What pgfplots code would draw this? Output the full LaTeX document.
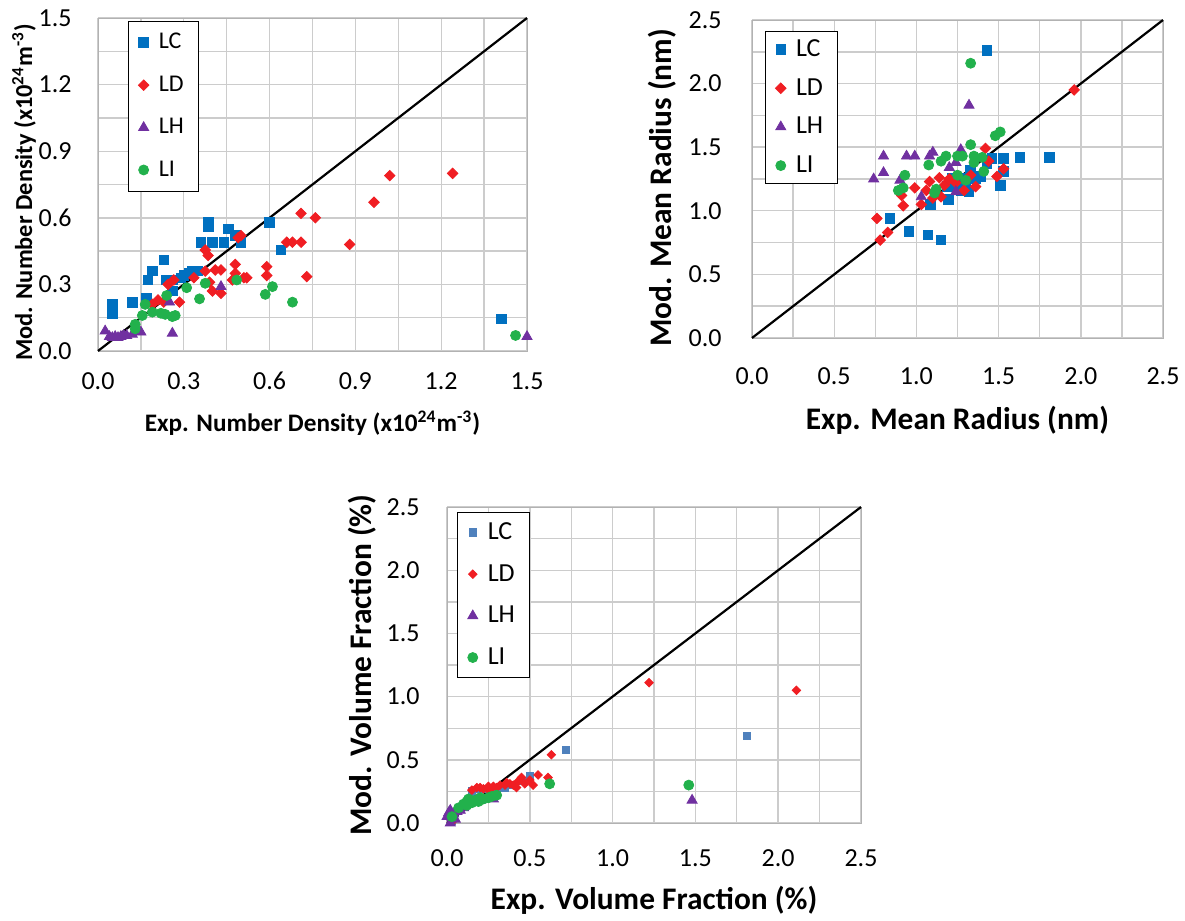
\documentclass[border=0pt]{standalone}
\usepackage{fontspec}
\setmainfont{Carlito}
\usepackage{pgfplots}
\pgfplotsset{compat=1.18}
\definecolor{cLC}{RGB}{0,112,192}
\definecolor{cLCb}{RGB}{79,129,189}
\definecolor{cLD}{RGB}{240,30,35}
\definecolor{cLH}{RGB}{112,48,160}
\definecolor{cLI}{RGB}{34,177,76}
\pgfplotsset{
  exc/.style={
    scale only axis, clip=false,
    axis line style={gray!60},
    grid=both,
    grid style={gray!40, line width=0.7pt},
    tick style={draw=none},
    major tick length=0pt, minor tick length=0pt,
    tick label style={font=\fontsize{13}{15}\selectfont, inner sep=0pt,
      /pgf/number format/fixed, /pgf/number format/fixed zerofill,
      /pgf/number format/precision=1, /pgf/number format/assume math mode=true},
    xticklabel style={anchor=center},
    yticklabel style={anchor=east},
    legend cell align=left,
    legend image code/.code={\draw[#1] plot coordinates {(0pt,0pt)};},
    legend style={draw=black, fill=white, anchor=north west,
      inner xsep=5pt, inner ysep=4pt,
      /tikz/every odd column/.append style={column sep=3pt}},
  },
  mLC/.style={only marks, mark=square*, mark size=2.4pt, color=cLC},
  mLD/.style={only marks, mark=square*, mark size=1.85pt, mark options={rotate=45}, color=cLD},
  mLH/.style={only marks, mark=triangle*, mark size=2.9pt, color=cLH},
  mLI/.style={only marks, mark=*, mark size=2.5pt, color=cLI},
}
\begin{document}
\begin{tikzpicture}
\path[use as bounding box] (0,0) rectangle (592.5pt,-460.5pt);
% ---------------- Top-left: number density
\begin{axis}[exc, at={(49pt,-9pt)}, anchor=north west,
  width=214.5pt, height=166.5pt,
  xmin=0, xmax=1.5, ymin=0, ymax=1.5,
  xtick={0,0.3,0.6,0.9,1.2,1.5}, ytick={0,0.3,0.6,0.9,1.2,1.5},
  minor xtick={0.15,0.45,0.75,1.05,1.35}, minor ytick={0.15,0.45,0.75,1.05,1.35},
  xticklabel style={yshift=-15pt}, yticklabel style={xshift=-13pt},
  xlabel={\textbf{Exp. Number Density (x10\textsuperscript{24}m\textsuperscript{-3})}},
  ylabel={\textbf{Mod. Number Density (x10\textsuperscript{24}m\textsuperscript{-3})}},
  xlabel style={font=\fontsize{12.6}{14}\selectfont, at={(axis description cs:0.5,-0.216)}, anchor=center},
  ylabel style={font=\fontsize{12.2}{14}\selectfont, at={(axis description cs:-0.1725,0.476)}, anchor=center},
  legend style={at={(axis description cs:0.07,0.991)}, row sep=8pt,
    font=\fontsize{12}{14}\selectfont},
]
\addplot[mLC] coordinates {
(0.05,0.21) (0.05,0.17) (0.12,0.22) (0.17,0.24) (0.175,0.32) (0.19,0.36)
(0.23,0.41) (0.24,0.32) (0.26,0.32) (0.26,0.27) (0.29,0.33) (0.30,0.34)
(0.32,0.35) (0.33,0.36) (0.35,0.36) (0.36,0.49) (0.385,0.58) (0.385,0.56)
(0.40,0.49) (0.44,0.49) (0.455,0.55) (0.48,0.52) (0.50,0.49) (0.60,0.58)
(0.64,0.455) (1.41,0.145)};
\addlegendentry{LC}
\addplot[mLD] coordinates {
(0.19,0.21) (0.21,0.23) (0.23,0.22) (0.245,0.30) (0.265,0.32) (0.285,0.22)
(0.335,0.33) (0.375,0.455) (0.385,0.43) (0.375,0.36) (0.39,0.31) (0.40,0.27)
(0.41,0.365) (0.43,0.365) (0.43,0.26) (0.48,0.39) (0.48,0.35) (0.47,0.32)
(0.49,0.51) (0.50,0.52) (0.51,0.33) (0.52,0.33) (0.59,0.38) (0.59,0.34)
(0.66,0.49) (0.68,0.49) (0.71,0.49) (0.71,0.62) (0.73,0.335) (0.76,0.60)
(0.88,0.48) (0.965,0.67) (1.02,0.79) (1.24,0.80)};
\addlegendentry{LD}
\addplot[mLH] coordinates {
(0.025,0.09) (0.04,0.065) (0.05,0.06) (0.06,0.065) (0.07,0.06) (0.08,0.065)
(0.09,0.07) (0.10,0.07) (0.12,0.075) (0.15,0.085) (0.25,0.22) (0.26,0.08)
(0.43,0.29) (1.50,0.065)};
\addlegendentry{LH}
\addplot[mLI] coordinates {
(0.13,0.10) (0.13,0.12) (0.155,0.16) (0.165,0.21) (0.19,0.175) (0.22,0.17)
(0.235,0.165) (0.26,0.155) (0.27,0.16) (0.24,0.25) (0.31,0.285) (0.355,0.235)
(0.375,0.305) (0.485,0.32) (0.585,0.255) (0.61,0.29) (0.68,0.22) (1.46,0.07)};
\addlegendentry{LI}
\addplot[black, line width=1.1pt, forget plot] coordinates {(0,0) (1.5,1.5)};
\end{axis}
% ---------------- Top-right: mean radius
\begin{axis}[exc, at={(376pt,-10pt)}, anchor=north west,
  width=205.5pt, height=159pt,
  xmin=0, xmax=2.5, ymin=0, ymax=2.5,
  xtick={0,0.5,1,1.5,2,2.5}, ytick={0,0.5,1,1.5,2,2.5},
  minor xtick={0.25,0.75,1.25,1.75,2.25}, minor ytick={0.25,0.75,1.25,1.75,2.25},
  xticklabel style={yshift=-19pt}, yticklabel style={xshift=-15pt},
  xlabel={\textbf{Exp. Mean Radius (nm)}},
  ylabel={\textbf{Mod. Mean Radius (nm)}},
  label style={font=\fontsize{15.7}{18}\selectfont},
  xlabel style={at={(axis description cs:0.5,-0.258)}, anchor=center},
  ylabel style={at={(axis description cs:-0.219,0.472)}, anchor=center},
  legend style={at={(axis description cs:0.032,0.965)}, row sep=5.5pt,
    font=\fontsize{13}{15}\selectfont, inner ysep=2pt},
]
\addplot[mLC] coordinates {
(0.84,0.94) (0.955,0.84) (1.07,0.81) (1.15,0.77) (1.085,1.05) (1.19,1.19)
(1.195,1.09) (1.21,1.23) (1.22,1.26) (1.25,1.19) (1.27,1.16) (1.32,1.15)
(1.33,1.32) (1.36,1.25) (1.39,1.27) (1.43,1.37) (1.46,1.41) (1.51,1.20)
(1.53,1.31) (1.53,1.41) (1.63,1.42) (1.81,1.42) (1.43,2.26) (1.30,1.22) (1.28,1.26)};
\addlegendentry{LC}
\addplot[mLD] coordinates {
(0.76,0.94) (0.78,0.77) (0.825,0.83) (0.91,1.12) (0.92,1.04) (0.99,1.18)
(1.03,1.05) (1.06,1.16) (1.08,1.23) (1.10,1.10) (1.14,1.26) (1.15,1.11)
(1.17,1.20) (1.29,1.16) (1.33,1.28) (1.36,1.19) (1.42,1.49) (1.44,1.39)
(1.49,1.27) (1.53,1.33) (1.96,1.95) (1.20,1.25) (1.24,1.22)};
\addlegendentry{LD}
\addplot[mLH] coordinates {
(0.74,1.25) (0.80,1.43) (0.80,1.30) (0.90,1.24) (0.94,1.43) (0.99,1.43)
(1.03,1.11) (1.08,1.43) (1.10,1.46) (1.20,1.34) (1.24,1.38) (1.24,1.15)
(1.27,1.48) (1.32,1.83)};
\addlegendentry{LH}
\addplot[mLI] coordinates {
(0.89,1.16) (0.92,1.18) (0.93,1.28) (1.075,1.36) (1.11,1.14) (1.12,1.17)
(1.15,1.39) (1.18,1.43) (1.25,1.43) (1.28,1.43) (1.25,1.28) (1.30,1.24)
(1.33,1.52) (1.35,1.43) (1.35,1.38) (1.40,1.42) (1.41,1.31) (1.48,1.59)
(1.51,1.62) (1.33,2.16)};
\addlegendentry{LI}
\addplot[black, line width=1.1pt, forget plot] coordinates {(0,0) (2.5,2.5)};
\end{axis}
% ---------------- Bottom: volume fraction
\begin{axis}[exc, at={(223.5pt,-253.5pt)}, anchor=north west,
  width=207pt, height=158pt,
  xmin=0, xmax=2.5, ymin=0, ymax=2.5,
  xtick={0,0.5,1,1.5,2,2.5}, ytick={0,0.5,1,1.5,2,2.5},
  minor xtick={0.25,0.75,1.25,1.75,2.25}, minor ytick={0.25,0.75,1.25,1.75,2.25},
  xticklabel style={yshift=-17.5pt}, yticklabel style={xshift=-13.5pt},
  xlabel={\textbf{Exp. Volume Fraction (\%)}},
  ylabel={\textbf{Mod. Volume Fraction (\%)}},
  label style={font=\fontsize{15.7}{18}\selectfont},
  xlabel style={at={(axis description cs:0.5,-0.245)}, anchor=center},
  ylabel style={at={(axis description cs:-0.205,0.5)}, anchor=center},
  legend style={at={(axis description cs:0.025,0.984)}, row sep=7pt,
    font=\fontsize{13}{15}\selectfont, inner ysep=3pt},
]
\addplot[mLC, color=cLCb, mark size=1.8pt] coordinates {
(0.15,0.25) (0.20,0.27) (0.25,0.27) (0.30,0.28) (0.35,0.28) (0.40,0.30)
(0.45,0.33) (0.50,0.37) (0.72,0.58) (1.81,0.69) (0.03,0.02) (0.10,0.15) (0.28,0.20)};
\addlegendentry{LC}
\addplot[mLD, mark size=1.5pt] coordinates {
(0.04,0.02) (0.15,0.26) (0.18,0.28) (0.20,0.28) (0.22,0.27) (0.25,0.29)
(0.28,0.29) (0.30,0.28) (0.32,0.30) (0.35,0.30) (0.38,0.31) (0.40,0.30)
(0.43,0.33) (0.45,0.36) (0.47,0.31) (0.50,0.34) (0.52,0.30) (0.55,0.38)
(0.61,0.36) (0.63,0.54) (1.22,1.11) (2.11,1.05) (0.36,0.32) (0.42,0.28) (0.26,0.25)};
\addlegendentry{LD}
\addplot[mLH] coordinates {
(0.00,0.05) (0.01,0.08) (0.02,0.10) (0.03,0.04) (0.04,0.07) (0.05,0.03)
(0.06,0.09) (0.08,0.10) (0.10,0.12) (0.28,0.19) (0.20,0.18) (1.48,0.18) (0.02,0.00)};
\addlegendentry{LH}
\addplot[mLI] coordinates {
(0.07,0.12) (0.10,0.15) (0.12,0.17) (0.13,0.19) (0.15,0.16) (0.17,0.18)
(0.19,0.17) (0.20,0.20) (0.22,0.19) (0.25,0.20) (0.27,0.21) (0.30,0.22)
(0.12,0.14) (0.62,0.31) (1.46,0.30) (0.03,0.05)};
\addlegendentry{LI}
\addplot[black, line width=1.1pt, forget plot] coordinates {(0,0) (2.5,2.5)};
\end{axis}
\end{tikzpicture}
\end{document}
